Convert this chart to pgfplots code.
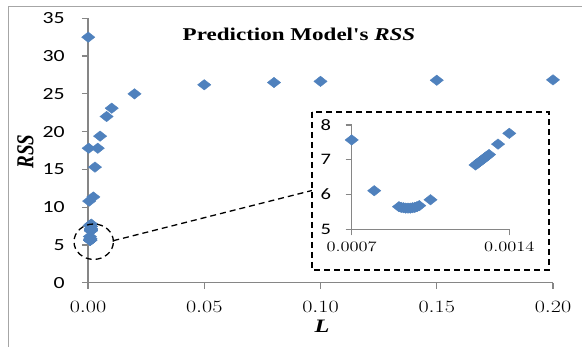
\documentclass[border=0pt]{standalone}
\usepackage{pgfplots}
\pgfplotsset{compat=1.18}
\usepackage{fontspec}
\setmainfont{Liberation Serif}
\newfontfamily\tickfont{Carlito}
\definecolor{exblue}{HTML}{4F81BD}
\definecolor{axgray}{HTML}{868686}
\definecolor{framegray}{HTML}{A6A6A6}

\pgfplotstableread{
L RSS
0.0001 32.5
0.0003 17.8
0.0005 10.8
0.0007 7.57
0.0008 6.11
0.00091 5.65
0.00092 5.63
0.00093 5.62
0.00094 5.61
0.00095 5.61
0.00096 5.61
0.00097 5.62
0.00098 5.63
0.00099 5.65
0.00100 5.68
0.00105 5.85
0.00125 6.85
0.00126 6.90
0.00127 6.95
0.00128 7.00
0.00129 7.05
0.00130 7.10
0.00131 7.15
0.00135 7.45
0.00140 7.76
0.0023 11.35
0.0030 15.3
0.0042 17.8
0.0052 19.4
0.0080 22.0
0.0102 23.1
0.0200 25.0
0.0500 26.2
0.0800 26.5
0.1000 26.65
0.1500 26.8
0.2000 26.85
}\datatable

\begin{document}
\begin{tikzpicture}
\useasboundingbox (0,0) rectangle (582pt,-347pt);
\draw[framegray, line width=0.8pt] (8pt,-347pt) -- (8pt,-6pt) -- (582pt,-6pt);

\begin{axis}[
  at={(88pt,-282.7pt)}, anchor=south west, scale only axis,
  width=465pt, height=264.4pt,
  xmin=0, xmax=0.2, ymin=0, ymax=35,
  clip=false,
  axis x line=bottom, axis y line=left,
  axis line style={axgray, line width=1.2pt, -},
  xtick={0,0.05,0.1,0.15,0.2},
  ytick={0,5,10,15,20,25,30,35},
  tick align=outside, major tick length=6pt,
  tick style={axgray, line width=1.2pt},
  scaled x ticks=false,
  xticklabel style={/pgf/number format/.cd, fixed, fixed zerofill, precision=2, /tikz/.cd,
    font=\fontsize{18}{18}\selectfont, xscale=1.28, anchor=center, yshift=-18pt},
  yticklabel style={font=\tickfont\fontsize{17}{17}\selectfont, xscale=1.28, anchor=east, xshift=-10pt},
  yticklabel={\pgfmathprintnumber[assume math mode=true]{\tick}},
]
\addplot[only marks, mark=diamond*, mark size=5.2pt, mark options={xscale=1.7, fill=exblue, draw=exblue}] table[x=L, y=RSS] {\datatable};
\end{axis}

\node[font=\bfseries\fontsize{18}{18}\selectfont, xscale=1.28] at (299pt,-34pt)
  {Prediction Model\XeTeXglyph\the\XeTeXcharglyph"0027 s \textit{RSS}};
\node[font=\bfseries\itshape\fontsize{19}{19}\selectfont] at (25.5pt,-151.7pt)
  {\rotatebox{90}{\scalebox{1}[1.28]{RSS}}};
\node[font=\bfseries\itshape\fontsize{19}{19}\selectfont, xscale=1.28] at (322pt,-326pt) {L};

\draw[black, line width=1.3pt, dash pattern=on 6pt off 4pt] (93.7pt,-241.7pt) ellipse [x radius=19.7pt, y radius=17.7pt];
\draw[black, line width=1.3pt, dash pattern=on 6pt off 4pt] (113.3pt,-240.7pt) -- (312pt,-190.5pt);
\draw[black, fill=white, line width=1.3pt, dash pattern=on 6pt off 4pt] (312pt,-112pt) rectangle (549pt,-270pt);

\begin{axis}[
  at={(351.7pt,-229.3pt)}, anchor=south west, scale only axis,
  width=157.6pt, height=104.3pt,
  xmin=0.0007, xmax=0.0014, ymin=5, ymax=8,
  clip=false,
  axis x line=bottom, axis y line=left,
  axis line style={axgray, line width=1.2pt, -},
  xtick={0.0007,0.0014},
  ytick={5,6,7,8},
  tick align=outside, major tick length=6pt,
  tick style={axgray, line width=1.2pt},
  scaled x ticks=false,
  xticklabel style={/pgf/number format/.cd, fixed, fixed zerofill, precision=4, /tikz/.cd,
    font=\fontsize{14}{14}\selectfont, xscale=1.28, anchor=center, yshift=-12pt},
  yticklabel style={font=\tickfont\fontsize{16}{16}\selectfont, xscale=1.28, anchor=east, xshift=-8pt},
  yticklabel={\pgfmathprintnumber[assume math mode=true]{\tick}},
]
\addplot[only marks, mark=diamond*, mark size=5.2pt, mark options={xscale=1.7, fill=exblue, draw=exblue},
  restrict x to domain=0.0007:0.0014] table[x=L, y=RSS] {\datatable};
\end{axis}
\end{tikzpicture}
\end{document}
